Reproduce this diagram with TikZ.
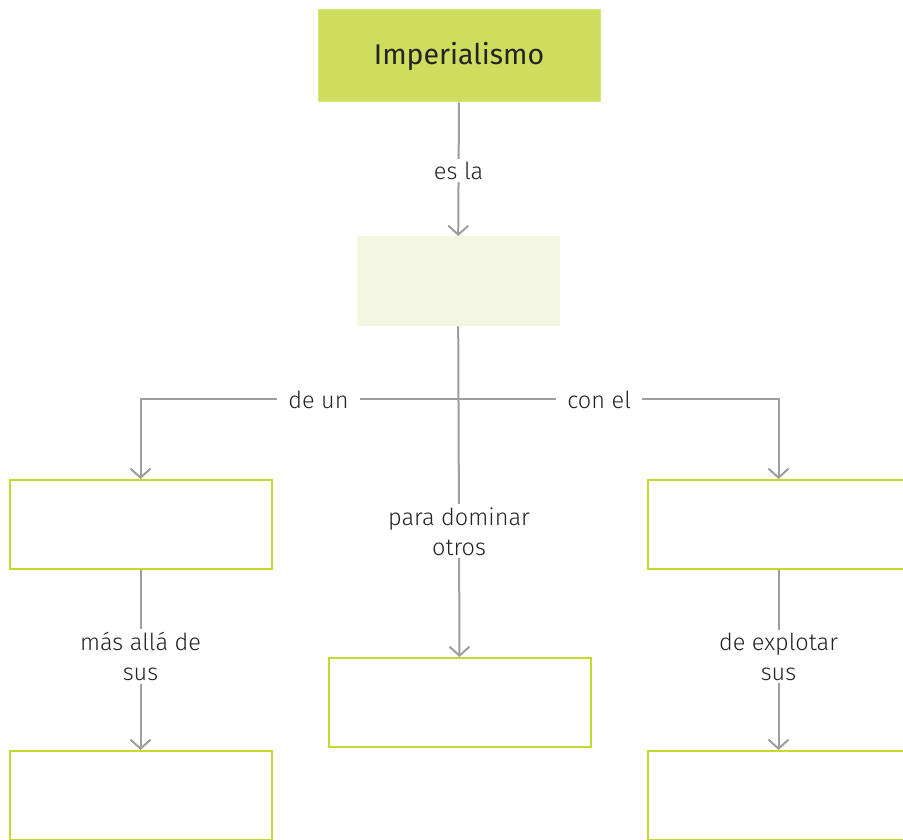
\documentclass[tikz,border=0pt]{standalone}
\usepackage{fontspec}
\setmainfont{Fira Sans Light}[BoldFont=Fira Sans]
\usetikzlibrary{arrows.meta}
\definecolor{topfill}{RGB}{206,221,94}
\definecolor{palefill}{RGB}{243,246,224}
\definecolor{boxgreen}{RGB}{198,217,48}
\definecolor{linegray}{RGB}{157,157,160}
\definecolor{txt}{RGB}{35,35,35}
\tikzset{
  conn/.style={draw=linegray, line width=2pt},
  arr/.style={conn, -{Straight Barb[length=9pt,width=20pt,line width=2pt]}},
  lbl/.style={fill=white, text=txt, inner xsep=11pt, inner ysep=3pt, align=center, font=\fontsize{23.5}{30}\selectfont},
  emptybox/.style={draw=boxgreen, line width=2pt, fill=white, minimum width=262pt, minimum height=89pt, inner sep=0pt, anchor=north west},
}
\begin{document}
\begin{tikzpicture}[x=1pt,y=-1pt]
\useasboundingbox (0,0) rectangle (903,840);
\node[fill=topfill, draw=topfill!80!white, line width=1pt, minimum width=282pt, minimum height=92pt, anchor=north west, inner sep=0pt, text=txt, font=\fontsize{28.5}{30}\selectfont\bfseries] (imp) at (317.5,9.5) {Imperialismo};
\node[fill=palefill, minimum width=203pt, minimum height=90pt, anchor=north west, inner sep=0pt] (def) at (356.5,236) {};
\node[emptybox] (b1) at (8.5,479) {};
\node[emptybox] (b2) at (8.5,750) {};
\node[emptybox] (m) at (327.5,657) {};
\node[emptybox] (r1) at (646.5,479) {};
\node[emptybox] (r2) at (646.5,750) {};
\path (def.south) ++(0,73) coordinate (j);
\draw[arr] (imp.south) -- node[lbl, pos=0.51] {es la} (def.north);
\draw[arr] (j) -| node[lbl, pos=0.22] {de un} (b1.north);
\draw[arr] (j) -| node[lbl, pos=0.22] {con el} (r1.north);
\draw[arr] (def.south) -- node[lbl, pos=0.62] {para dominar\\otros} (m.north);
\draw[arr] (b1.south) -- node[lbl, pos=0.48] {más allá de\\sus} (b2.north);
\draw[arr] (r1.south) -- node[lbl, pos=0.48] {de explotar\\sus} (r2.north);
\end{tikzpicture}
\end{document}
